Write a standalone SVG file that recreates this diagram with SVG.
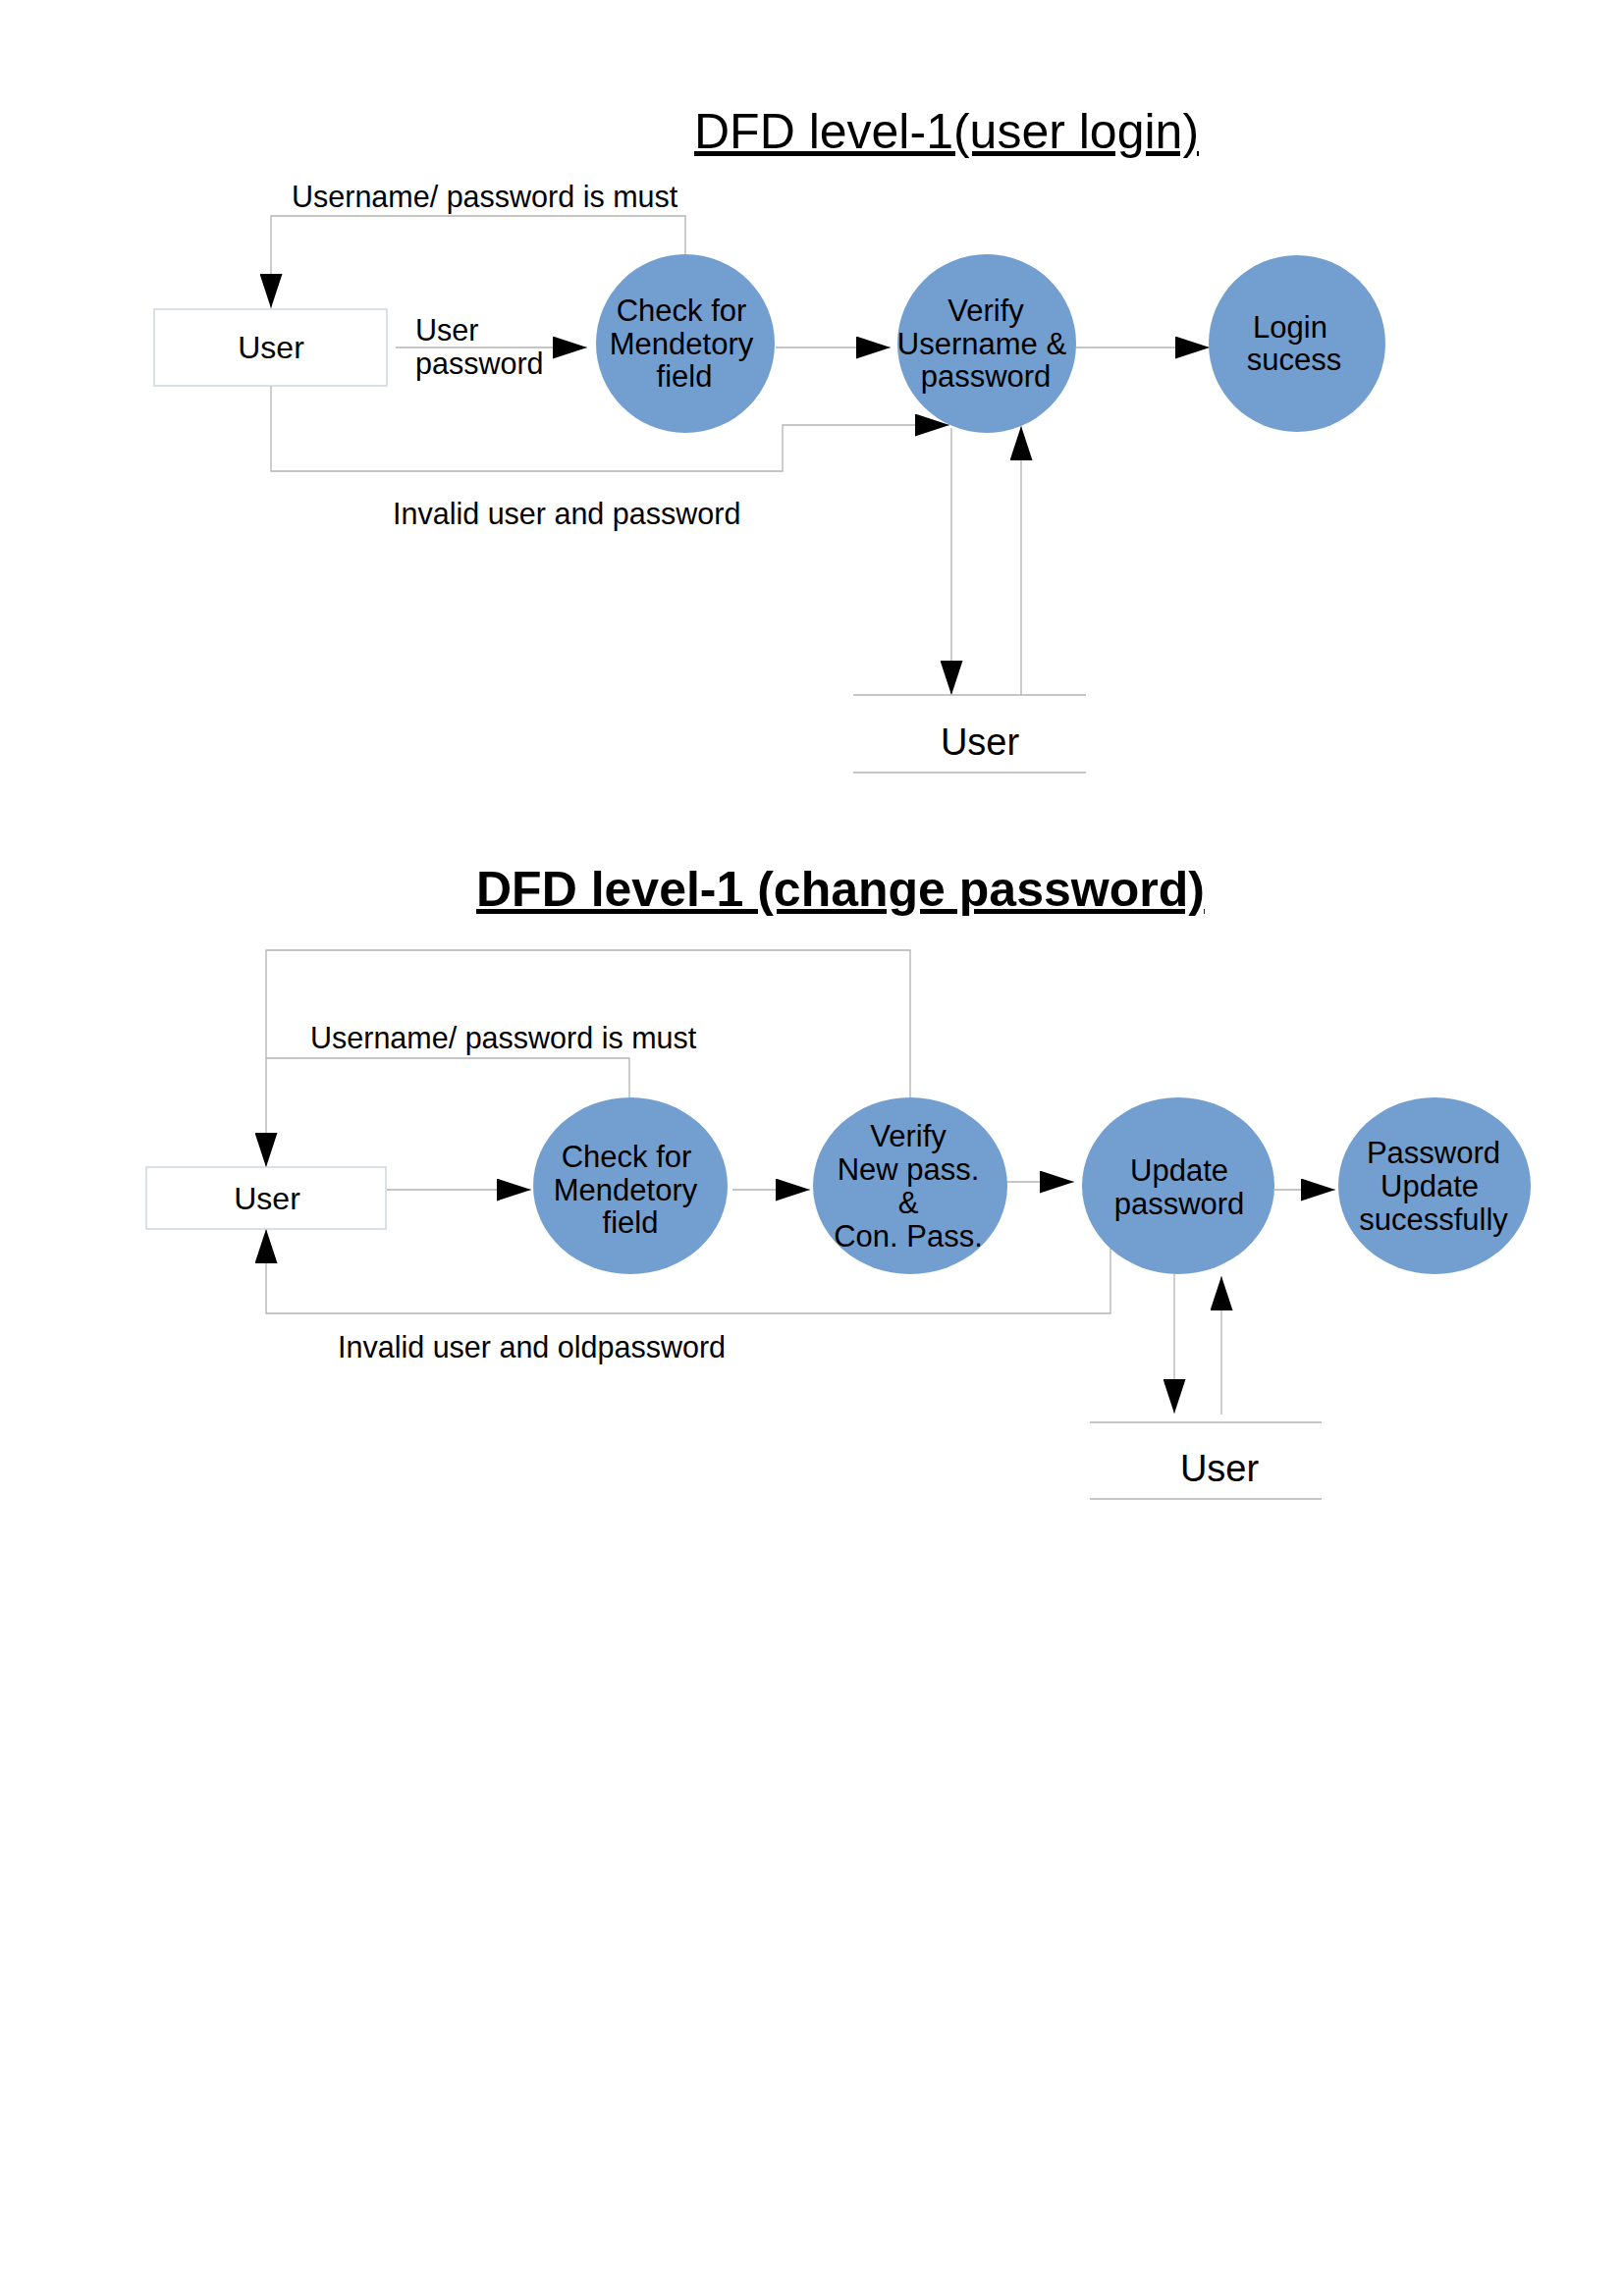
<svg xmlns="http://www.w3.org/2000/svg" width="1654" height="2339" viewBox="0 0 1654 2339">
<style>
text{font-family:"Liberation Sans",Arial,sans-serif;fill:#000}
.t{font-size:30.5px}
.c{font-size:31px;text-anchor:middle}
.u{font-size:32px;text-anchor:middle}
.s{font-size:38px;text-anchor:middle}
.title{font-size:50px;text-decoration:underline}
.bub{fill:#729fcf}
.box{fill:#fff;stroke:#c6d0dd;stroke-width:1.3}
.ln{fill:none;stroke:#b3b3b3;stroke-width:1.3}
.arr{marker-end:url(#ah)}
</style>
<defs>
<marker id="ah" markerUnits="userSpaceOnUse" markerWidth="35" markerHeight="23" refX="35" refY="11.5" orient="auto">
<path d="M0,0 L35,11.5 L0,23 z" fill="#000"/>
</marker>
</defs>
<rect width="1654" height="2339" fill="#fff"/>

<text class="title" x="707" y="151">DFD level-1(user login)</text>
<text class="title" x="485" y="923" font-weight="bold">DFD level-1 (change password)</text>

<g id="connectors">
<path class="ln arr" d="M698,260 V220 H276 V314"/>
<path class="ln arr" d="M403,354 H598"/>
<path class="ln arr" d="M790,354 H907"/>
<path class="ln arr" d="M1096,354 H1232"/>
<path class="ln arr" d="M276,393 V480 H797 V433 H967"/>
<path class="ln arr" d="M969,436 V708"/>
<path class="ln arr" d="M1040,708 V434"/>

<path class="ln" d="M641,1118 V1078 H271"/>
<path class="ln arr" d="M927,1118 V968 H271 V1189"/>
<path class="ln arr" d="M394,1212 H541"/>
<path class="ln arr" d="M746,1212 H825"/>
<path class="ln arr" d="M1025,1204 H1094"/>
<path class="ln arr" d="M1298,1212 H1360"/>
<path class="ln arr" d="M1131,1272 V1338 H271 V1252"/>
<path class="ln arr" d="M1196,1298 V1440"/>
<path class="ln arr" d="M1244,1441 V1300"/>
</g>

<g id="labels">
<text class="t" x="297" y="211">Username/ password is must</text>
<text class="t" x="423" y="347">User</text>
<text class="t" x="423" y="381">password</text>
<text class="t" x="400" y="534">Invalid user and password</text>
<text class="t" x="316" y="1068">Username/ password is must</text>
<text class="t" x="344" y="1383">Invalid user and oldpassword</text>
</g>

<g id="user1">
<rect class="box" x="157" y="315" width="237" height="78"/>
<text class="u" x="276" y="365">User</text>
</g>
<g id="check1">
<circle class="bub" cx="698" cy="350" r="91"/>
<text class="c" x="694" y="327">Check for</text>
<text class="c" x="694" y="361">Mendetory</text>
<text class="c" x="697" y="394">field</text>
</g>
<g id="verify1">
<circle class="bub" cx="1005" cy="350" r="91"/>
<text class="c" x="1004" y="327">Verify</text>
<text class="c" x="1000" y="361">Username &amp;</text>
<text class="c" x="1004" y="394">password</text>
</g>
<g id="login1">
<circle class="bub" cx="1321" cy="350" r="90"/>
<text class="c" x="1314" y="344">Login</text>
<text class="c" x="1318" y="377">sucess</text>
</g>
<g id="store1">
<line class="ln" x1="869" y1="708" x2="1106" y2="708"/>
<line class="ln" x1="869" y1="787" x2="1106" y2="787"/>
<text class="s" x="998" y="769">User</text>
</g>

<g id="user2">
<rect class="box" x="149" y="1189" width="244" height="63"/>
<text class="u" x="272" y="1232">User</text>
</g>
<g id="check2">
<ellipse class="bub" cx="642" cy="1208" rx="99" ry="90"/>
<text class="c" x="638" y="1189">Check for</text>
<text class="c" x="637" y="1223">Mendetory</text>
<text class="c" x="642" y="1256">field</text>
</g>
<g id="verify2">
<ellipse class="bub" cx="927" cy="1208" rx="99" ry="90"/>
<text class="c" x="925" y="1168">Verify</text>
<text class="c" x="925" y="1202">New pass.</text>
<text class="c" x="925" y="1236">&amp;</text>
<text class="c" x="925" y="1270">Con. Pass.</text>
</g>
<g id="update2">
<ellipse class="bub" cx="1200" cy="1208" rx="98" ry="90"/>
<text class="c" x="1201" y="1203">Update</text>
<text class="c" x="1201" y="1237">password</text>
</g>
<g id="success2">
<ellipse class="bub" cx="1461" cy="1208" rx="98" ry="90"/>
<text class="c" x="1460" y="1185">Password</text>
<text class="c" x="1456" y="1219">Update</text>
<text class="c" x="1460" y="1253">sucessfully</text>
</g>
<g id="store2">
<line class="ln" x1="1110" y1="1449" x2="1346" y2="1449"/>
<line class="ln" x1="1110" y1="1527" x2="1346" y2="1527"/>
<text class="s" x="1242" y="1509">User</text>
</g>
</svg>
